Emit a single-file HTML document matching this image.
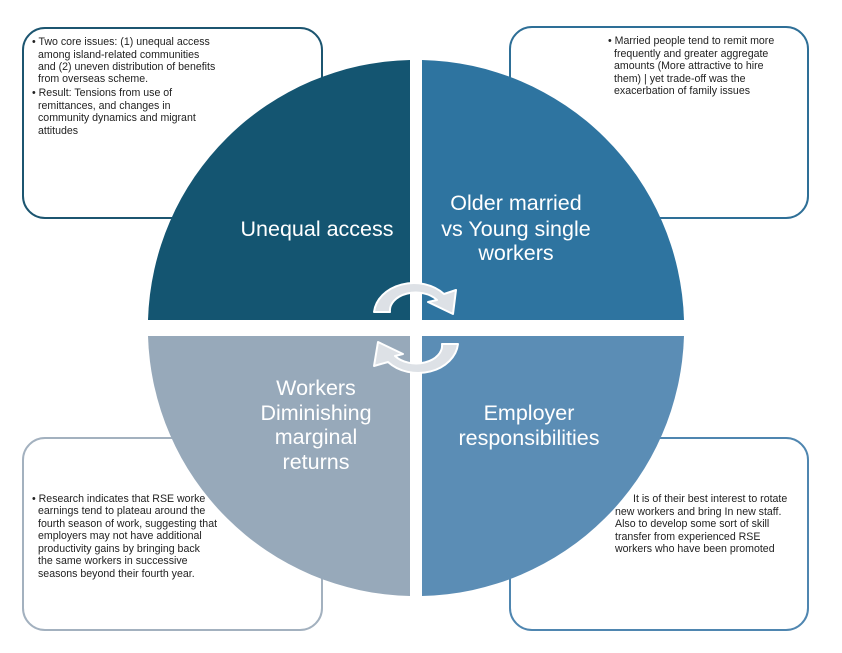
<!DOCTYPE html>
<html><head><meta charset="utf-8"><style>
html,body{margin:0;padding:0;background:#fff;}
svg{display:block;font-family:"Liberation Sans",sans-serif;}
.s{font-size:10.6px;fill:#222;}
.l{font-size:21.5px;fill:#fff;text-anchor:middle;}
</style></head><body>
<svg width="842" height="653" viewBox="0 0 842 653">
<rect x="23" y="28" width="299" height="190" rx="22" fill="#fff" stroke="#1c5570" stroke-width="2"/>
<rect x="510" y="27" width="298" height="191" rx="22" fill="#fff" stroke="#2e6f97" stroke-width="2"/>
<rect x="23" y="438" width="299" height="192" rx="22" fill="#fff" stroke="#a3b1bf" stroke-width="2"/>
<rect x="510" y="438" width="298" height="192" rx="22" fill="#fff" stroke="#4f86b0" stroke-width="2"/>

<path d="M410,320 V60 A268,268 0 0 0 148,320 Z" fill="#145571"/>
<path d="M422,320 V60 A268,268 0 0 1 684,320 Z" fill="#2e74a0"/>
<path d="M422,336 H684 A268,268 0 0 1 422,596 Z" fill="#5b8db5"/>
<path d="M410,336 V596 A268,268 0 0 1 148,336 Z" fill="#97a9ba"/>

<g stroke="#fff" stroke-width="2" fill="#dde1e6" stroke-linejoin="round">
<path d="M374,312 A40,32 0 0 1 444,294 L456,290 L453,314 L428,302 L437,300 A26,18 0 0 0 390,312 Z"/>
<path d="M458,344 A40,32 0 0 1 388,362 L374,366 L378,342 L403,354 L395,356 A26,18 0 0 0 442,344 Z"/>
</g>

<text class="l" x="317" y="236">Unequal access</text>
<text class="l" x="516" y="210">Older married</text>
<text class="l" x="516" y="236">vs Young single</text>
<text class="l" x="516" y="260">workers</text>
<text class="l" x="316" y="395">Workers</text>
<text class="l" x="316" y="420">Diminishing</text>
<text class="l" x="316" y="444">marginal</text>
<text class="l" x="316" y="469">returns</text>
<text class="l" x="529" y="420">Employer</text>
<text class="l" x="529" y="445">responsibilities</text>

<g class="s">
<text x="32" y="45">• Two core issues: (1) unequal access</text>
<text x="38" y="58">among island-related communities</text>
<text x="38" y="70">and (2) uneven distribution of benefits</text>
<text x="38" y="82">from overseas scheme.</text>
<text x="32" y="96">• Result: Tensions from use of</text>
<text x="38" y="109">remittances, and changes in</text>
<text x="38" y="121">community dynamics and migrant</text>
<text x="38" y="134">attitudes</text>

<text x="608" y="44">• Married people tend to remit more</text>
<text x="614" y="57">frequently and greater aggregate</text>
<text x="614" y="69">amounts (More attractive to hire</text>
<text x="614" y="82">them) | yet trade-off was the</text>
<text x="614" y="94">exacerbation of family issues</text>

<text x="32" y="502">• Research indicates that RSE worke</text>
<text x="38" y="514">earnings tend to plateau around the</text>
<text x="38" y="527">fourth season of work, suggesting that</text>
<text x="38" y="539">employers may not have additional</text>
<text x="38" y="552">productivity gains by bringing back</text>
<text x="38" y="564">the same workers in successive</text>
<text x="38" y="577">seasons beyond their fourth year.</text>

<text x="633" y="502">It is of their best interest to rotate</text>
<text x="615" y="515">new workers and bring In new staff.</text>
<text x="615" y="527">Also to develop some sort of skill</text>
<text x="615" y="540">transfer from experienced RSE</text>
<text x="615" y="552">workers who have been promoted</text>
</g>
</svg>
</body></html>
